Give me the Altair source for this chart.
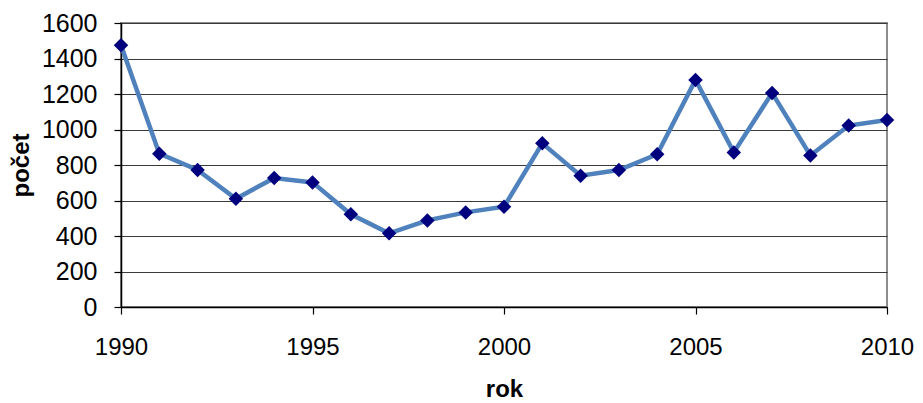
import altair as alt
import pandas as pd

years = [1990, 1991, 1992, 1993, 1994, 1995, 1996, 1997, 1998, 1999, 2000,
         2001, 2002, 2003, 2004, 2005, 2006, 2007, 2008, 2009, 2010]
counts = [1474, 864, 772, 610, 727, 702, 522, 415, 488, 533, 565,
          922, 740, 772, 860, 1279, 871, 1206, 854, 1022, 1054]
x_ticks = [1990, 1995, 2000, 2005, 2010]
y_ticks = [0, 200, 400, 600, 800, 1000, 1200, 1400, 1600]

df = pd.DataFrame({"year": years, "count": counts})

FONT = "Liberation Sans"

base = alt.Chart(df).encode(
    x=alt.X(
        "year:Q",
        scale=alt.Scale(domain=[1990, 2010], nice=False, zero=False),
        axis=alt.Axis(
            values=x_ticks, format="d", title="rok", grid=False,
            labelFlush=False, labelPadding=21, titlePadding=18,
            labelFontSize=24,
        ),
    ),
    y=alt.Y(
        "count:Q",
        scale=alt.Scale(domain=[0, 1600], nice=False),
        axis=alt.Axis(
            values=y_ticks, format="d", title="počet", grid=True,
            gridColor="#3a3a3a", gridWidth=1.2, gridOpacity=1,
            labelFlush=False, labelPadding=17, titlePadding=8,
            labelFontSize=25,
        ),
    ),
)

line = base.mark_line(color="#4F81BD", strokeWidth=4.5)
pts = base.mark_point(shape="diamond", filled=True, color="#00007F",
                      size=210, opacity=1)

chart = (
    (line + pts)
    .properties(
        width=766, height=284,
        autosize=alt.AutoSizeParams(type="none"),
        padding={"left": 113, "top": 15, "right": 28, "bottom": 95},
        background="white",
    )
    .configure_view(stroke="#8c8c8c", strokeWidth=2)
    .configure_axis(
        domainColor="black", domainWidth=1.5,
        tickColor="black", tickSize=7, tickWidth=1.2,
        labelFont=FONT, labelColor="black",
        titleFont=FONT, titleFontSize=24, titleFontWeight="bold",
        titleColor="black",
    )
)

chart.save("out.html", embed_options={"renderer": "svg", "actions": False})
